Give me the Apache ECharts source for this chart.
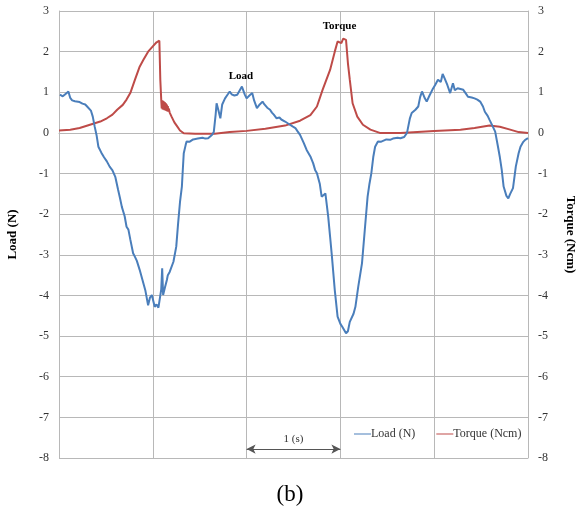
<!DOCTYPE html>
<html>
<head>
<meta charset="utf-8">
<script src="https://cdn.jsdelivr.net/npm/echarts@6/dist/echarts.min.js"></script>
<style>
  html, body { margin: 0; padding: 0; background: #fff; }
  #chart { width: 580px; height: 514px; }
</style>
</head>
<body>
<div id="chart"></div>
<script>
// Time axis: seconds, one grid column per second
const timeTicks = [0, 1, 2, 3, 4, 5];
const loadTicks = [-8, -7, -6, -5, -4, -3, -2, -1, 0, 1, 2, 3];

// Load (N) over time [s, N]
const loadData = [
  [0.01, 0.94], [0.04, 0.90], [0.07, 0.96], [0.10, 1.02], [0.12, 0.86], [0.14, 0.80],
  [0.17, 0.78], [0.19, 0.74], [0.22, 0.76], [0.25, 0.72], [0.28, 0.70], [0.30, 0.65],
  [0.32, 0.66], [0.34, 0.55], [0.36, 0.40], [0.38, 0.16], [0.40, -0.05], [0.42, -0.34],
  [0.45, -0.48], [0.48, -0.60], [0.51, -0.70], [0.54, -0.83], [0.57, -0.92], [0.60, -1.08],
  [0.63, -1.40], [0.65, -1.60], [0.67, -1.82], [0.70, -2.05], [0.72, -2.31], [0.74, -2.38],
  [0.76, -2.62], [0.79, -2.96], [0.81, -3.05], [0.83, -3.15], [0.86, -3.37], [0.89, -3.62],
  [0.92, -3.87], [0.95, -4.24], [0.97, -4.05], [0.99, -3.99], [1.02, -4.28], [1.04, -4.22],
  [1.06, -4.30], [1.08, -4.28], [1.09, -3.85], [1.10, -3.33], [1.11, -3.99], [1.13, -3.80],
  [1.15, -3.62], [1.16, -3.50], [1.18, -3.42], [1.20, -3.45], [1.22, -3.17], [1.25, -2.80],
  [1.27, -2.22], [1.29, -1.70], [1.31, -1.32], [1.32, -0.90], [1.33, -0.50], [1.35, -0.30],
  [1.36, -0.21], [1.39, -0.22], [1.41, -0.19], [1.43, -0.16], [1.45, -0.17], [1.48, -0.14],
  [1.50, -0.15], [1.53, -0.12], [1.56, -0.14], [1.59, -0.13], [1.61, -0.10], [1.63, -0.05],
  [1.65, 0.02], [1.67, 0.45], [1.68, 0.73], [1.70, 0.55], [1.72, 0.36], [1.74, 0.70],
  [1.77, 0.85], [1.80, 0.95], [1.82, 1.02], [1.84, 0.95], [1.87, 0.92], [1.90, 0.94],
  [1.92, 1.02], [1.95, 1.14], [1.98, 0.95], [2.00, 0.85], [2.03, 0.92], [2.06, 0.98],
  [2.08, 0.80], [2.11, 0.61], [2.14, 0.70], [2.17, 0.77], [2.19, 0.70], [2.22, 0.62],
  [2.25, 0.57], [2.27, 0.50], [2.29, 0.45], [2.32, 0.36], [2.35, 0.38], [2.37, 0.33],
  [2.41, 0.28], [2.43, 0.25], [2.45, 0.22], [2.49, 0.16], [2.52, 0.12], [2.54, 0.05],
  [2.57, -0.05], [2.59, -0.08], [2.61, -0.25], [2.64, -0.42], [2.68, -0.58], [2.71, -0.75],
  [2.73, -0.91], [2.75, -0.99], [2.78, -1.25], [2.80, -1.57], [2.82, -1.55], [2.84, -1.49],
  [2.87, -2.06], [2.89, -2.55], [2.91, -3.05], [2.94, -3.87], [2.97, -4.52], [3.00, -4.70],
  [3.02, -4.77], [3.04, -4.85], [3.06, -4.93], [3.08, -4.88], [3.10, -4.65], [3.12, -4.62],
  [3.14, -4.45], [3.16, -4.28], [3.19, -3.79], [3.23, -3.21], [3.26, -2.39], [3.29, -1.57],
  [3.31, -1.25], [3.33, -0.99], [3.35, -0.60], [3.37, -0.34], [3.40, -0.21], [3.43, -0.22],
  [3.46, -0.19], [3.49, -0.16], [3.53, -0.17], [3.56, -0.14], [3.58, -0.15], [3.61, -0.12],
  [3.64, -0.13], [3.66, -0.11], [3.68, -0.10], [3.71, 0.00], [3.74, 0.35], [3.76, 0.49],
  [3.78, 0.52], [3.80, 0.57], [3.83, 0.65], [3.85, 0.88], [3.87, 1.02], [3.90, 0.85],
  [3.92, 0.77], [3.95, 0.92], [3.98, 1.06], [4.01, 1.18], [4.04, 1.31], [4.07, 1.25],
  [4.09, 1.45], [4.11, 1.35], [4.14, 1.18], [4.17, 0.98], [4.20, 1.22], [4.22, 1.05],
  [4.25, 1.10], [4.28, 1.08], [4.31, 1.06], [4.34, 0.96], [4.36, 0.89], [4.40, 0.87],
  [4.43, 0.85], [4.46, 0.82], [4.49, 0.77], [4.52, 0.65], [4.54, 0.52], [4.57, 0.42],
  [4.59, 0.32], [4.62, 0.18], [4.65, 0.03], [4.68, -0.34], [4.70, -0.60], [4.72, -0.91],
  [4.74, -1.32], [4.77, -1.55], [4.79, -1.61], [4.81, -1.50], [4.84, -1.36], [4.87, -0.83],
  [4.90, -0.50], [4.92, -0.34], [4.95, -0.22], [4.97, -0.17], [5.00, -0.13]
];

// Torque (Ncm) over time [s, Ncm]; the band after the first release oscillates fast
const torqueData = [
  [0.00, 0.06], [0.12, 0.08], [0.22, 0.12], [0.33, 0.20], [0.44, 0.28], [0.51, 0.36],
  [0.57, 0.45], [0.62, 0.57], [0.68, 0.69], [0.72, 0.82], [0.76, 0.98], [0.81, 1.31],
  [0.86, 1.63], [0.90, 1.80], [0.95, 2.00], [1.00, 2.13], [1.04, 2.23], [1.07, 2.27],
  [1.08, 1.31], [1.09, 0.81], [1.095, 0.60], [1.10, 0.80], [1.105, 0.58], [1.11, 0.79],
  [1.115, 0.57], [1.12, 0.77], [1.125, 0.56], [1.13, 0.75], [1.135, 0.55], [1.14, 0.73],
  [1.145, 0.54], [1.15, 0.70], [1.155, 0.53], [1.16, 0.66], [1.165, 0.52], [1.17, 0.60],
  [1.18, 0.50], [1.20, 0.40], [1.23, 0.26], [1.26, 0.16], [1.29, 0.06], [1.33, -0.01],
  [1.45, -0.02], [1.66, -0.02], [1.82, 0.02], [2.00, 0.05], [2.20, 0.10], [2.41, 0.18],
  [2.57, 0.30], [2.68, 0.44], [2.75, 0.65], [2.81, 1.06], [2.89, 1.55], [2.94, 2.00],
  [2.97, 2.25], [3.01, 2.21], [3.03, 2.32], [3.06, 2.29], [3.08, 1.72], [3.10, 1.31],
  [3.13, 0.73], [3.18, 0.40], [3.24, 0.20], [3.32, 0.08], [3.42, 0.00], [3.64, 0.00],
  [4.00, 0.05], [4.28, 0.08], [4.43, 0.12], [4.59, 0.18], [4.70, 0.15], [4.81, 0.08],
  [4.90, 0.02], [5.00, 0.00]
];

// Curve captions placed in data units [s, value]
const captions = [
  { text: 'Load', at: [1.94, 1.40] },
  { text: 'Torque', at: [2.99, 2.63] }
];

// Scale bar: one second
const scaleBar = { from: [2, -7.78], to: [3, -7.78], text: '1 (s)' };

const serif = '"Liberation Serif", "DejaVu Serif", serif';
const gridColor = '#b8b8b8';
const textColor = '#333';

const chart = echarts.init(document.getElementById('chart'), null, { renderer: 'canvas' });

const yAxisBase = {
  type: 'value',
  min: loadTicks[0],
  max: loadTicks[loadTicks.length - 1],
  interval: 1,
  axisTick: { show: false },
  splitLine: { show: true, lineStyle: { color: gridColor, width: 1 } },
  axisLabel: { color: textColor, fontFamily: serif, fontSize: 12, margin: 10 },
  nameLocation: 'middle',
  nameTextStyle: { fontFamily: serif, fontSize: 13, fontWeight: 'bold', color: '#000' },
  axisLine: { show: true, lineStyle: { color: gridColor } }
};

chart.setOption({
  animation: false,
  backgroundColor: '#fff',
  title: {
    text: '(b)',
    left: 'center',
    top: 478,
    textStyle: { fontFamily: serif, fontSize: 23, fontWeight: 'normal', color: '#000' }
  },
  grid: { left: 59, right: 52, top: 11, bottom: 56, containLabel: false, outerBoundsMode: 'none' },
  legend: {
    left: 349,
    top: 423,
    itemGap: 21,
    itemWidth: 17,
    itemHeight: 1,
    icon: 'rect',
    textStyle: { fontFamily: serif, fontSize: 12, color: textColor, padding: [0, 0, 0, -5] },
    data: ['Load (N)', 'Torque (Ncm)']
  },
  xAxis: {
    type: 'value',
    min: timeTicks[0],
    max: timeTicks[timeTicks.length - 1],
    interval: 1,
    axisLabel: { show: false },
    axisTick: { show: false },
    axisLine: { show: true, lineStyle: { color: gridColor } },
    splitLine: { show: true, lineStyle: { color: gridColor, width: 1 } }
  },
  yAxis: [
    Object.assign({}, yAxisBase, {
      position: 'left',
      name: 'Load (N)',
      nameGap: 40
    }),
    Object.assign({}, yAxisBase, {
      position: 'right',
      name: 'Torque (Ncm)',
      nameGap: 36,
      nameRotate: -90
    })
  ],
  series: [
    {
      name: 'Load (N)',
      type: 'line',
      yAxisIndex: 0,
      data: loadData,
      showSymbol: false,
      color: '#4a7ebb',
      lineStyle: { width: 2, color: '#4a7ebb' },
      z: 3,
      markPoint: {
        symbol: 'rect',
        symbolSize: 1,
        itemStyle: { color: 'rgba(0,0,0,0)' },
        label: {
          show: true, position: 'inside',
          fontFamily: serif, fontSize: 11, fontWeight: 'bold', color: '#000',
          formatter: p => p.name
        },
        data: captions.map(c => ({ name: c.text, coord: c.at }))
      },
      markLine: {
        silent: true,
        symbol: ['arrow', 'arrow'],
        symbolSize: [7, 9],
        lineStyle: { color: '#555', width: 1, type: 'solid' },
        label: {
          show: true, position: 'middle', distance: 4,
          fontFamily: serif, fontSize: 11, color: textColor,
          formatter: scaleBar.text
        },
        data: [[{ coord: scaleBar.from }, { coord: scaleBar.to }]]
      }
    },
    {
      name: 'Torque (Ncm)',
      type: 'line',
      yAxisIndex: 1,
      data: torqueData,
      showSymbol: false,
      color: '#be4b48',
      lineStyle: { width: 2, color: '#be4b48' },
      z: 2
    }
  ]
});
</script>
</body>
</html>
